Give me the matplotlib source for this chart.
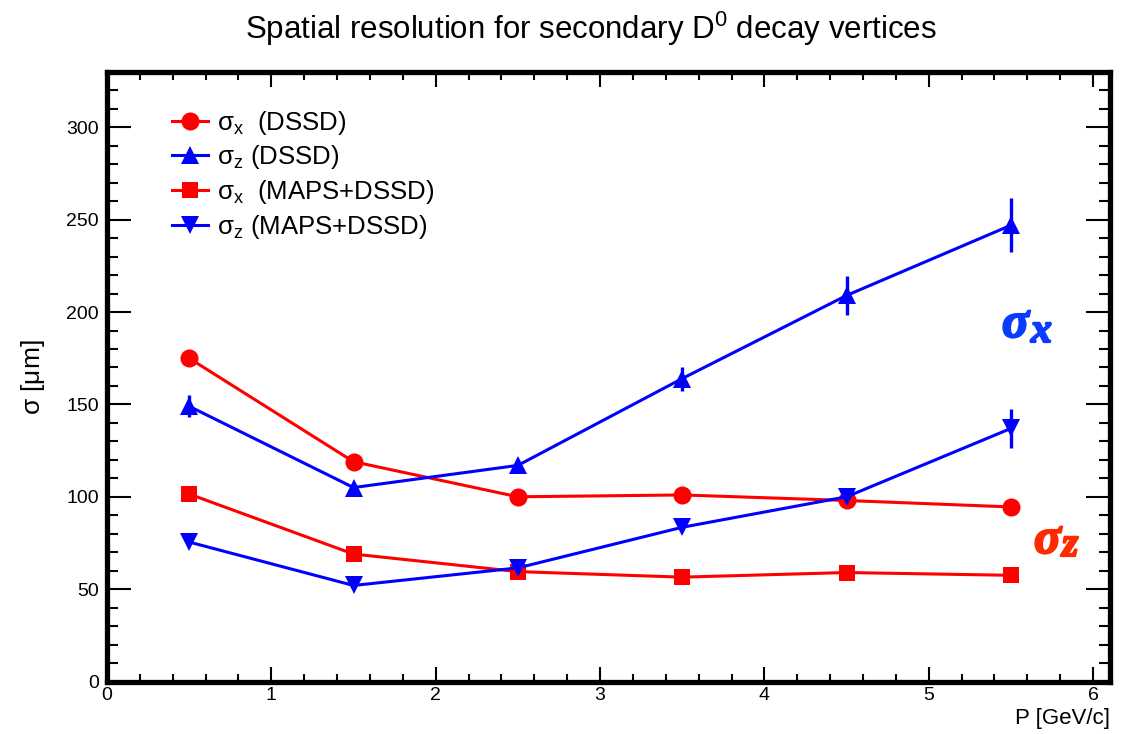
import matplotlib
matplotlib.use("Agg")
import matplotlib.pyplot as plt
import matplotlib.patheffects as pe
from matplotlib.ticker import MultipleLocator
from matplotlib.lines import Line2D

plt.rcParams['font.family'] = ['Liberation Sans', 'DejaVu Sans']
plt.rcParams['mathtext.fontset'] = 'custom'
plt.rcParams['mathtext.rm'] = 'Liberation Sans'
plt.rcParams['mathtext.it'] = 'Liberation Sans:italic'
plt.rcParams['mathtext.default'] = 'regular'

# data (P in GeV/c, sigma in um)
p = [0.5, 1.5, 2.5, 3.5, 4.5, 5.5]
sx_dssd = [175, 119, 100, 101, 98, 94.5]
sx_dssd_err = [1.5, 1.5, 1.5, 1.5, 2, 2]
sz_dssd = [149, 105, 117, 164, 209, 247]
sz_dssd_err = [6, 2, 2, 6.5, 10.5, 14.5]
sx_maps = [101.5, 69, 59.5, 56.5, 59, 57.5]
sx_maps_err = [1, 1, 1, 1, 1, 1]
sz_maps = [75.5, 52, 61.5, 83.5, 100, 137]
sz_maps_err = [1.5, 1.5, 1.5, 2, 3.5, 10.5]

labels = [r'$\sigma_{x}$  (DSSD)', r'$\sigma_{z}$ (DSSD)',
          r'$\sigma_{x}$  (MAPS+DSSD)', r'$\sigma_{z}$ (MAPS+DSSD)']

W, H = 1131, 734
fig = plt.figure(figsize=(W / 100, H / 100), dpi=100)
ax = fig.add_axes([0.0946, 0.0715, 0.8864, 0.8305])

series = [
    (sx_dssd, sx_dssd_err, 'red', 'o', 13),
    (sz_dssd, sz_dssd_err, 'blue', '^', 13),
    (sx_maps, sx_maps_err, 'red', 's', 12),
    (sz_maps, sz_maps_err, 'blue', 'v', 13),
]
handles = []
for (y, e, c, m, ms), lab in zip(series, labels):
    ax.errorbar(p, y, yerr=e, color=c, marker=m, markersize=ms, lw=2.2,
                elinewidth=2.4, capsize=5.5, capthick=2.6, markeredgewidth=0,
                zorder=3)
    handles.append(Line2D([], [], color=c, marker=m, markersize=ms, lw=2.2,
                          markeredgewidth=0, label=lab))

leg = ax.legend(handles=handles, loc='upper left', bbox_to_anchor=(0.0648, 0.94),
                frameon=False, fontsize=18.5, handlelength=1.4, handletextpad=0.35,
                labelspacing=0.26, borderpad=0, borderaxespad=0)

# big sigma labels, placed in figure pixels (from top-left)
def pix_text(x, y, s, color, size):
    fig.text(x / W, 1 - y / H, s, color=color, fontsize=size, ha='left',
             va='baseline', family='Liberation Serif', style='italic',
             weight='bold',
             path_effects=[pe.withStroke(linewidth=1.6, foreground=color)])

pix_text(1002, 337, 'σ', '#0a3cff', 36)
pix_text(1031, 342, 'x', '#0a3cff', 30)
pix_text(1034, 553, 'σ', '#ff2a00', 36)
pix_text(1062, 556, 'z', '#ff2a00', 30)

ax.set_xlim(0, 6.1)
ax.set_ylim(0, 330)
ax.xaxis.set_major_locator(MultipleLocator(1))
ax.xaxis.set_minor_locator(MultipleLocator(0.2))
ax.yaxis.set_major_locator(MultipleLocator(50))
ax.yaxis.set_minor_locator(MultipleLocator(10))
ax.tick_params(which='both', direction='in', top=True, right=True,
               labelsize=14, width=1.5, colors='black')
ax.tick_params(axis='x', which='major', length=11, pad=4)
ax.tick_params(axis='x', which='minor', length=6)
ax.tick_params(axis='y', which='major', length=17, pad=6)
ax.tick_params(axis='y', which='minor', length=8)
for s in ax.spines.values():
    s.set_linewidth(3.8)

ax.set_ylabel(r'$\sigma$ [$\mu$m]', fontsize=19)
ax.yaxis.set_label_coords(-0.06, 0.5)
ax.set_xlabel('P [GeV/c]', fontsize=16, ha='right')
ax.xaxis.set_label_coords(1.0, -0.043)

fig.text(0.5225, 0.961, r'Spatial resolution for secondary D$^{0}$ decay vertices',
         ha='center', va='center', fontsize=22.5)

fig.savefig('out.png', dpi=100)
